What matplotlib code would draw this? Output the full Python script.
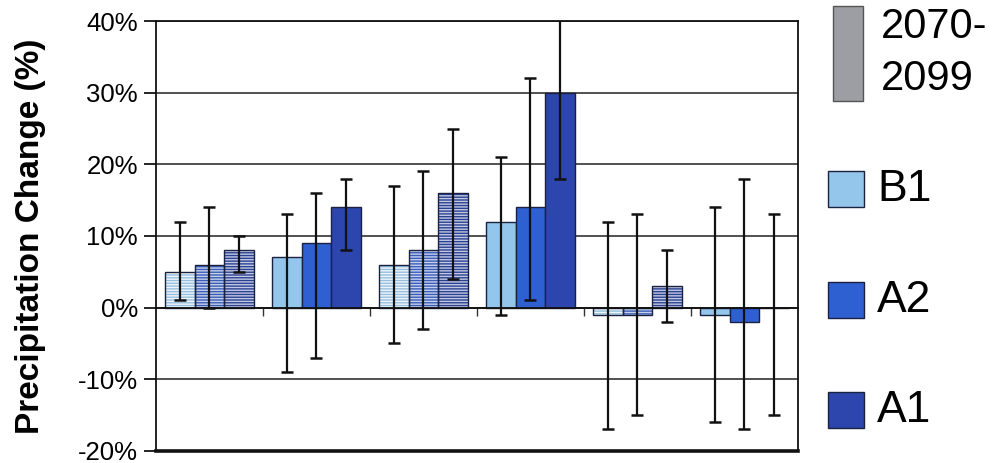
import numpy as np
import matplotlib
matplotlib.use("Agg")
import matplotlib.pyplot as plt
from matplotlib.patches import Rectangle

plt.rcParams['font.family'] = ['Liberation Sans', 'DejaVu Sans']
plt.rcParams['hatch.linewidth'] = 1.0

# six regions / periods, three scenarios each (values in %)
scenarios = ["B1", "A2", "A1"]
b1_vals = [5, 7, 6, 12, -1, -1]
a2_vals = [6, 9, 8, 14, -1, -2]
a1_vals = [8, 14, 16, 30, 3, 0]
# error bar ranges (low, high)
b1_lo = [1, -9, -5, -1, -17, -16]
b1_hi = [12, 13, 17, 21, 12, 14]
a2_lo = [0, -7, -3, 1, -15, -17]
a2_hi = [14, 16, 19, 32, 13, 18]
a1_lo = [5, 8, 4, 18, -2, -15]
a1_hi = [10, 18, 25, 43, 8, 13]
hatched = [True, False, True, False, True, False]

yticks = [-20, -10, 0, 10, 20, 30, 40]

solid_cols = ["#93c6ea", "#2f60d2", "#2c46ad"]
hatch_cols = ["#96c0de", "#3a5cb4", "#2c4190"]
hatch_lines = ["#eef4fa", "#c4d0ec", "#c0c8e4"]
edge = "#1b2140"

fig = plt.figure(figsize=(10.03, 4.63), dpi=100)
ax = fig.add_axes([0.1555, 0.026, 0.64, 0.9286])

vals = [b1_vals, a2_vals, a1_vals]
los = [b1_lo, a2_lo, a1_lo]
his = [b1_hi, a2_hi, a1_hi]

x = np.arange(len(b1_vals))
w = 0.277
for k in range(3):
    xs = x + (k - 1) * w
    v = np.array(vals[k], dtype=float)
    for i in range(len(xs)):
        if hatched[i]:
            ax.bar(xs[i], v[i], w, color=hatch_cols[k], edgecolor=hatch_lines[k],
                   hatch="------", linewidth=0, zorder=2)
            ax.bar(xs[i], v[i], w, fill=False, edgecolor=edge, linewidth=1.0, zorder=2.5)
        else:
            ax.bar(xs[i], v[i], w, color=solid_cols[k], edgecolor=edge,
                   linewidth=1.0, zorder=2)
    lo = v - np.array(los[k])
    hi = np.array(his[k]) - v
    ax.errorbar(xs, v, yerr=[lo, hi], fmt="none", ecolor="#111111",
                elinewidth=1.6, capsize=4, capthick=1.8, zorder=3)

ax.set_xlim(-0.5, len(b1_vals) - 0.5)
ax.set_ylim(-20, 40)
ax.set_yticks(yticks)
ax.set_yticklabels([f"{t}%" for t in yticks], fontsize=18.5)
ax.tick_params(axis="y", direction="out", length=9, width=1.2, pad=4)

for t in yticks:
    ax.axhline(t, color="#222222", lw=1.1, zorder=1)

ax.spines["bottom"].set_position(("data", 0))
ax.set_xticks(x[:-1] + 0.5)
ax.set_xticklabels([])
ax.tick_params(axis="x", direction="out", length=6, width=1.0, color="#333333")
for s in ["left", "right", "top", "bottom"]:
    ax.spines[s].set_linewidth(1.3)
    ax.spines[s].set_color("#111111")
ax.axhline(-20, color="#111111", lw=2.6, zorder=4, clip_on=False)

ax.set_ylabel("Precipitation Change (%)", fontsize=24, fontweight="bold")
ax.yaxis.set_label_coords(-0.172, 0.5)

# legend drawn at the right
fig.add_artist(Rectangle((833 / 1003, 1 - 101 / 463), 30 / 1003, 95 / 463,
                         facecolor="#9c9ea3", edgecolor="#555555", lw=1, transform=fig.transFigure))
fig.text(881 / 1003, 1 - 53 / 463, "2070-\n2099", fontsize=30, va="center", ha="left",
         linespacing=1.4)
leg_y = [189, 300, 410]
for k in range(3):
    fig.add_artist(Rectangle((828 / 1003, 1 - (leg_y[k] + 18) / 463), 36 / 1003, 36 / 463,
                             facecolor=solid_cols[k], edgecolor=edge, lw=1, transform=fig.transFigure))
    fig.text(877 / 1003, 1 - leg_y[k] / 463, scenarios[k], fontsize=32, va="center", ha="left")

fig.savefig("out.png", dpi=100)
